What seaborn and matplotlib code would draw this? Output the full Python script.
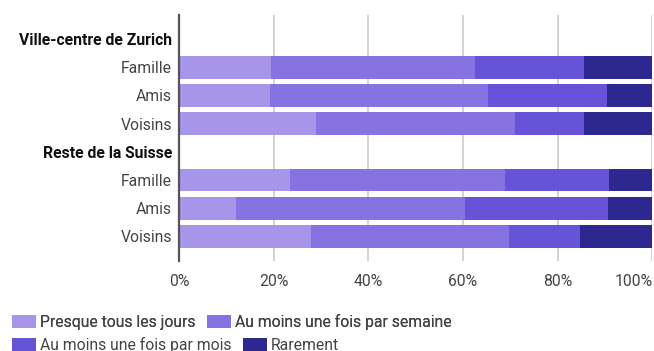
import matplotlib
matplotlib.use("Agg")
import matplotlib.pyplot as plt
import seaborn as sns
import pandas as pd
import numpy as np
from matplotlib.patches import Patch

# Row layout: group headers followed by relation types
row_keys = ["h_zh", "zh_fam", "zh_ami", "zh_voi", "h_ch", "ch_fam", "ch_ami", "ch_voi"]
row_labels = ["Ville-centre de Zurich", "Famille", "Amis", "Voisins",
              "Reste de la Suisse", "Famille", "Amis", "Voisins"]
header_keys = ["h_zh", "h_ch"]

bar_keys = ["zh_fam", "zh_ami", "zh_voi", "ch_fam", "ch_ami", "ch_voi"]

# Share of respondents (%) per contact frequency
presque_tous_les_jours = [19.4, 19.2, 28.9, 23.5, 12.0, 27.9]
une_fois_par_semaine = [43.1, 46.1, 42.1, 45.4, 48.4, 41.8]
une_fois_par_mois = [23.1, 25.1, 14.6, 21.9, 30.2, 15.0]
rarement = [14.4, 9.6, 14.4, 9.2, 9.4, 15.3]

series_names = ["Presque tous les jours", "Au moins une fois par semaine",
                "Au moins une fois par mois", "Rarement"]
colors = ["#a795ea", "#8672e0", "#6653d8", "#2d2890"]

x_ticks = [0, 20, 40, 60, 80, 100]
x_tick_labels = ["0%", "20%", "40%", "60%", "80%", "100%"]

FS = 11.3

sns.set_theme(style="white")
plt.rcParams["font.family"] = ["Roboto", "DejaVu Sans"]

df = pd.DataFrame({
    "row": bar_keys,
    "s1": presque_tous_les_jours,
    "s2": une_fois_par_semaine,
    "s3": une_fois_par_mois,
    "s4": rarement,
})
cols = ["s1", "s2", "s3", "s4"]
cum = df[cols].cumsum(axis=1)

fig = plt.figure(figsize=(6.54, 3.51), dpi=100)
ax = fig.add_axes([179 / 654, 1 - 261 / 351, (652.3 - 179) / 654, (261 - 15) / 351])

# Stacked bars: draw cumulative totals from the outermost segment inwards
for i in range(3, -1, -1):
    sns.barplot(data=pd.DataFrame({"row": df["row"], "v": cum[cols[i]]}),
                x="v", y="row", order=row_keys, orient="h",
                color=colors[i], saturation=1, width=0.8,
                linewidth=0, ax=ax, zorder=3)

ax.set_xlim(0, 100)
ax.set_ylim(7.87, -0.855)
ax.set_xticks(x_ticks)
ax.set_xticklabels(x_tick_labels)
ax.set_yticks(range(len(row_keys)))
ax.set_yticklabels(row_labels)
ax.set_xlabel("")
ax.set_ylabel("")

for key, lab in zip(row_keys, ax.get_yticklabels()):
    if key in header_keys:
        lab.set_fontweight("bold")
        lab.set_color("#111111")
    else:
        lab.set_color("#444444")
    lab.set_fontsize(FS)

xlabs = ax.get_xticklabels()
for lab in xlabs:
    lab.set_color("#444444")
    lab.set_fontsize(FS)
# keep the last tick label inside the figure
xlabs[-1].set_horizontalalignment("right")

ax.tick_params(axis="y", length=0, pad=5)
ax.tick_params(axis="x", length=0, pad=9)

ax.grid(axis="x", color="#d0d0d0", linewidth=1.3, zorder=0)
ax.grid(axis="y", visible=False)
ax.set_axisbelow(True)
for side in ["top", "right", "bottom"]:
    ax.spines[side].set_visible(False)
ax.spines["left"].set_color("#555555")
ax.spines["left"].set_linewidth(1.6)
ax.spines["left"].set_zorder(5)

handles = [Patch(facecolor=c, edgecolor="none") for c in colors]
leg_kw = dict(frameon=False, fontsize=FS, handlelength=1.5, handleheight=0.9,
              handletextpad=0.28, columnspacing=0.75, borderpad=0, borderaxespad=0,
              loc="center left", ncol=2, labelcolor="#444444")
leg1 = fig.legend(handles[:2], series_names[:2], bbox_to_anchor=(12 / 654, 1 - 322 / 351), **leg_kw)
fig.add_artist(leg1)
fig.legend(handles[2:], series_names[2:], bbox_to_anchor=(12 / 654, 1 - 345 / 351), **leg_kw)

fig.savefig("out.png", dpi=100)
